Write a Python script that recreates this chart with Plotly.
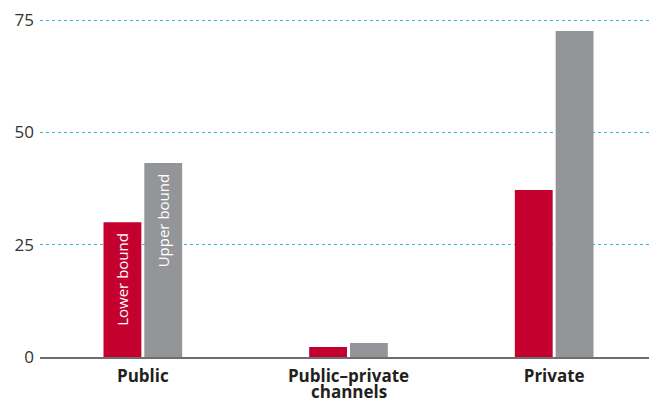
import plotly.graph_objects as go

category_line1 = ["Public", "Public–private", "Private"]
category_line2 = ["", "channels", ""]
categories = [(a + " " + b).strip() for a, b in zip(category_line1, category_line2)]
lower_bound = [30.0, 2.2, 37.2]
upper_bound = [43.2, 3.1, 72.6]
lower_text = ["Lower bound\u00a0\u00a0", "", ""]
upper_text = ["Upper bound\u00a0\u00a0", "", ""]
y_ticks = [0, 25, 50, 75]

fig = go.Figure()
fig.add_trace(go.Bar(
    x=categories, y=lower_bound, name="Lower bound",
    marker=dict(color="#c4002f", line=dict(width=0)),
    text=lower_text, textposition="inside", insidetextanchor="end",
    textangle=-90, textfont=dict(color="white", size=15, family="Open Sans"),
    hoverinfo="skip",
))
fig.add_trace(go.Bar(
    x=categories, y=upper_bound, name="Upper bound",
    marker=dict(color="#939598", line=dict(width=0)),
    text=upper_text, textposition="inside", insidetextanchor="end",
    textangle=-90, textfont=dict(color="white", size=15, family="Open Sans"),
    hoverinfo="skip",
))

for cat, line2 in zip(categories, category_line2):
    if line2:
        fig.add_annotation(
            x=cat, y=0, xref="x", yref="y", text=line2, showarrow=False,
            yanchor="middle", yshift=-34,
            font=dict(family="Open Sans", size=17, color="#231f20", weight="bold"),
        )

# page body has an 8px margin: size the figure so it ends at the window edges
fig.update_layout(
    width=649, height=392,
    margin=dict(l=32, r=0, t=10, b=43),
    paper_bgcolor="white", plot_bgcolor="white",
    barmode="group", bargap=0.603, bargroupgap=0.073,
    showlegend=False,
    font=dict(family="Open Sans", color="#333333"),
)
fig.update_xaxes(
    tickvals=categories, ticktext=category_line1,
    showgrid=False, showline=True, linecolor="#6d6e70", linewidth=2,
    ticks="", automargin=False, ticklabelstandoff=3,
    tickfont=dict(family="Open Sans", size=17, color="#231f20", weight="bold"),
    fixedrange=True,
)
fig.update_yaxes(
    range=[0, 75.5], tickvals=y_ticks, ticktext=[str(v) for v in y_ticks],
    showgrid=True, gridcolor="#3ab4e2", griddash="dot", gridwidth=1,
    zeroline=False, showline=False, ticks="", automargin=False,
    tickfont=dict(family="Open Sans", size=17, color="#333333"),
    ticklabelstandoff=5,
)

fig.write_html("out.html")
